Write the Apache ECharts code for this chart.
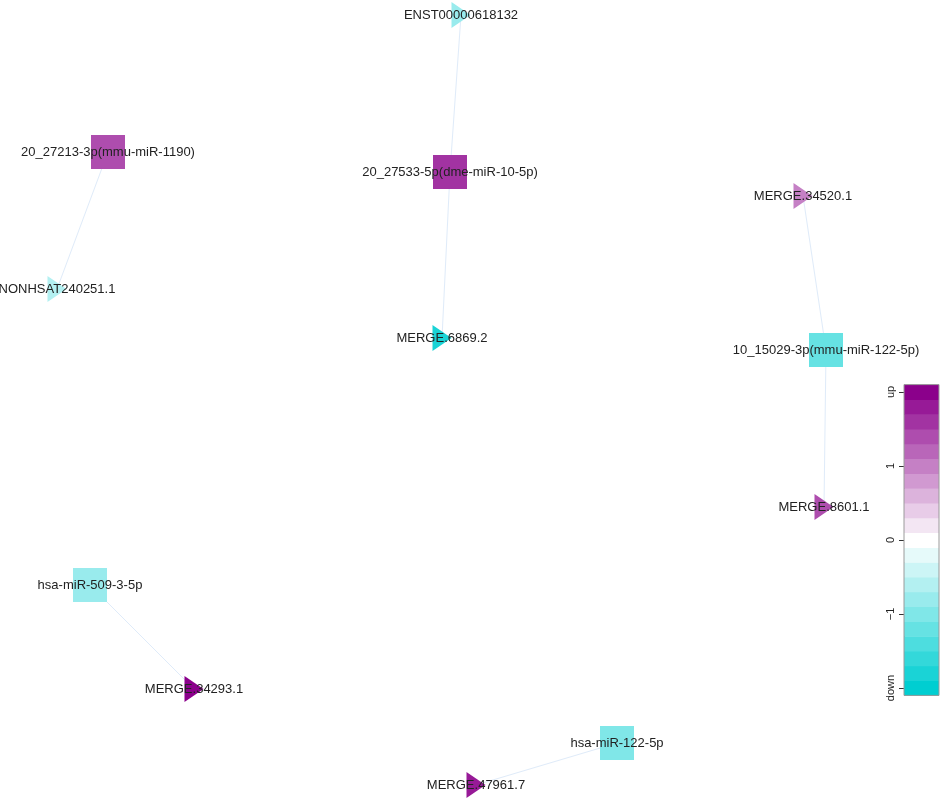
<!DOCTYPE html>
<html lang="en">
<head>
	<meta charset="UTF-8">
	<title>ceRNA network</title>
	<style>
		html, body { margin: 0; padding: 0; background: #fff; }
	</style>
</head>
<body>
	<div id="net" style="width: 941px;height:800px;"></div>
	<script src="https://cdn.jsdelivr.net/npm/echarts@6/dist/echarts.min.js"></script>
	<script>
		// nodes (position in px of the original figure, log fold change)
		var nodeNames = [
			'ENST00000618132', '20_27533-5p(dme-miR-10-5p)', 'MERGE.6869.2',
			'20_27213-3p(mmu-miR-1190)', 'NONHSAT240251.1',
			'MERGE.34520.1', '10_15029-3p(mmu-miR-122-5p)', 'MERGE.8601.1',
			'hsa-miR-509-3-5p', 'MERGE.34293.1',
			'hsa-miR-122-5p', 'MERGE.47961.7'
		];
		var nodeType = ['lnc', 'mir', 'lnc', 'mir', 'lnc', 'lnc', 'mir', 'lnc', 'mir', 'lnc', 'mir', 'lnc'];
		var nodeX = [461, 450, 442, 108, 57, 803, 826, 824, 90, 194, 617, 476];
		var nodeY = [15, 172, 338, 152, 289, 196, 350, 507, 585, 689, 743, 785];
		var nodeFC = [-0.9, 1.6, -1.8, 1.3, -0.6, 0.9, -1.2, 1.4, -0.8, 2.0, -1.0, 1.8];

		// edges
		var edgeSource = ['20_27533-5p(dme-miR-10-5p)', '20_27533-5p(dme-miR-10-5p)', '20_27213-3p(mmu-miR-1190)',
			'10_15029-3p(mmu-miR-122-5p)', '10_15029-3p(mmu-miR-122-5p)', 'hsa-miR-509-3-5p', 'hsa-miR-122-5p'];
		var edgeTarget = ['ENST00000618132', 'MERGE.6869.2', 'NONHSAT240251.1',
			'MERGE.34520.1', 'MERGE.8601.1', 'MERGE.34293.1', 'MERGE.47961.7'];

		// colour key
		var keyMin = -2.1, keyMax = 2.1, keyStep = 0.2;
		var keyTicks = [-2, -1, 0, 1, 2];
		var keyTickLabels = ['down', '\u22121', '0', '1', 'up'];

		var downRGB = [0, 206, 209], upRGB = [139, 0, 139];

		// 分箱着色
		function binColor(v) {
			var k = Math.round(v / keyStep);
			var t = Math.min(Math.abs(k) / 10, 1);
			var end = k < 0 ? downRGB : upRGB;
			var c = end.map(function (e) { return Math.round(255 + (e - 255) * t); });
			return 'rgb(' + c.join(',') + ')';
		}

		var keyBins = [];
		for (var lo = keyMin; lo < keyMax - 1e-9; lo += keyStep) {
			keyBins.push([lo, lo + keyStep, lo + keyStep / 2]);
		}

		var nodes = nodeNames.map(function (n, i) {
			var mir = nodeType[i] === 'mir';
			return {
				name: n,
				value: [nodeX[i], nodeY[i]],
				symbol: mir ? 'rect' : 'path://M0,0L1,0.5L0,1Z',
				symbolSize: mir ? [34, 34] : [19, 26],
				itemStyle: { color: binColor(nodeFC[i]) }
			};
		});
		var links = edgeSource.map(function (s, i) {
			return { source: s, target: edgeTarget[i] };
		});

		var myChart = echarts.init(document.getElementById('net'));

		var option = {
			animation: false,
			backgroundColor: '#fff',
			grid: [
				{ left: 0, top: 0, right: 0, bottom: 0 },
				{ left: 904, top: 392, width: 35, height: 296 }
			],
			xAxis: [
				{ gridIndex: 0, type: 'value', min: 0, max: 941, show: false },
				{ gridIndex: 1, type: 'value', min: 0, max: 1, show: false }
			],
			yAxis: [
				{ gridIndex: 0, type: 'value', min: 0, max: 800, inverse: true, show: false },
				{
					gridIndex: 1, type: 'value', min: -2, max: 2, interval: 1,
					splitLine: { show: false },
					axisLine: { show: true, lineStyle: { color: '#333', width: 1 } },
					axisTick: { show: true, length: 5, lineStyle: { color: '#333' } },
					axisLabel: {
						rotate: 90, margin: 8, fontSize: 11, color: '#222',
						fontFamily: 'Liberation Sans, Arial, sans-serif',
						formatter: function (v) {
							var i = keyTicks.indexOf(v);
							return i >= 0 ? keyTickLabels[i] : '';
						}
					}
				}
			],
			series: [
				{
					type: 'graph',
					coordinateSystem: 'cartesian2d',
					xAxisIndex: 0,
					yAxisIndex: 0,
					data: nodes,
					links: links,
					lineStyle: { color: '#dfebf9', width: 1, opacity: 1, curveness: 0 },
					label: {
						show: true,
						position: 'inside',
						color: '#222',
						fontSize: 13,
						fontFamily: 'Liberation Sans, Arial, sans-serif'
					},
					emphasis: { disabled: true }
				},
				{
					type: 'custom',
					xAxisIndex: 1,
					yAxisIndex: 1,
					clip: false,
					data: keyBins,
					renderItem: function (params, api) {
						var p0 = api.coord([0, api.value(1)]);
						var p1 = api.coord([1, api.value(0)]);
						return {
							type: 'rect',
							shape: { x: p0[0], y: p0[1], width: p1[0] - p0[0], height: p1[1] - p0[1] + 0.5 },
							style: { fill: binColor(api.value(2)), stroke: null }
						};
					}
				},
				{
					// 色条边框
					type: 'custom',
					xAxisIndex: 1,
					yAxisIndex: 1,
					clip: false,
					data: [[keyMin, keyMax]],
					renderItem: function (params, api) {
						var p0 = api.coord([0, api.value(1)]);
						var p1 = api.coord([1, api.value(0)]);
						return {
							type: 'rect',
							shape: { x: p0[0], y: p0[1], width: p1[0] - p0[0], height: p1[1] - p0[1] },
							style: { fill: null, stroke: '#9a9a9a', lineWidth: 1 }
						};
					}
				}
			]
		};

		myChart.setOption(option);
	</script>
</body>
</html>
